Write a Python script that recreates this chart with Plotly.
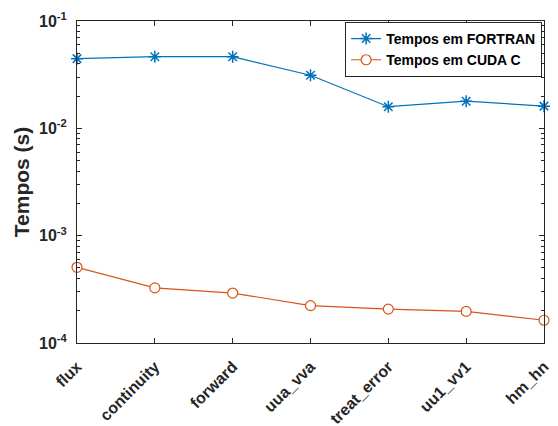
import plotly.graph_objects as go

categories = ["flux", "continuity", "forward", "uua_vva", "treat_error", "uu1_vv1", "hm_hn"]
fortran = [0.0446, 0.0465, 0.0465, 0.0312, 0.0159, 0.0179, 0.0161]
cuda = [5.07e-4, 3.26e-4, 2.92e-4, 2.23e-4, 2.07e-4, 1.97e-4, 1.63e-4]
major_exps = [-4, -3, -2, -1]

xs = list(range(len(categories)))
font_fam = "Liberation Sans, Arial, sans-serif"
dark = "#262626"

fig = go.Figure()
fig.add_trace(go.Scatter(
    x=xs, y=fortran, mode="lines+markers", name="<b>Tempos em FORTRAN</b>",
    line=dict(color="#0072BD", width=1.2),
    marker=dict(symbol="asterisk-open", size=10, color="#0072BD", line=dict(color="#0072BD", width=1.5)),
    cliponaxis=False,
))
fig.add_trace(go.Scatter(
    x=xs, y=cuda, mode="lines+markers", name="<b>Tempos em CUDA C</b>",
    line=dict(color="#D95319", width=1.2),
    marker=dict(symbol="circle", size=10, color="white", line=dict(color="#D95319", width=1.2)),
    cliponaxis=False,
))

major_vals = [10.0 ** e for e in major_exps]
minor_vals = [m * 10.0 ** e for e in major_exps[:-1] for m in range(2, 10)]

fig.update_layout(
    width=558, height=426,
    margin=dict(l=77, r=14, t=21, b=83, autoexpand=False),
    paper_bgcolor="white", plot_bgcolor="white",
    font=dict(family=font_fam, color=dark),
    showlegend=True,
    legend=dict(
        x=0.996, y=0.997, xanchor="right", yanchor="top",
        bordercolor=dark, borderwidth=1, bgcolor="white",
        font=dict(family=font_fam, size=14, color="black"),
        tracegroupgap=0, itemwidth=30,
    ),
    xaxis=dict(
        range=[0, 6], tickvals=xs, ticktext=["<b>%s</b>" % c for c in categories],
        tickangle=-45, ticks="inside", ticklen=5, tickcolor=dark,
        showline=True, linecolor=dark, linewidth=1, mirror="ticks",
        showgrid=False, zeroline=False, automargin=False,
        ticklabelstandoff=7,
        tickfont=dict(family=font_fam, size=16, color=dark),
    ),
    yaxis=dict(
        type="log", range=[-4, -1],
        tickvals=major_vals, ticktext=["<b>10<sup>%d</sup></b>" % e for e in major_exps],
        ticks="inside", ticklen=5, tickcolor=dark,
        showline=True, linecolor=dark, linewidth=1, mirror="ticks",
        showgrid=False, zeroline=False, automargin=False,
        ticklabelstandoff=6,
        tickfont=dict(family=font_fam, size=16, color=dark),
        minor=dict(tickvals=minor_vals, ticks="inside", ticklen=3, tickcolor=dark, showgrid=False),
        title=dict(text="<b>Tempos (s)</b>", font=dict(family=font_fam, size=21, color=dark), standoff=3),
    ),
)

fig.write_html("out.html")
